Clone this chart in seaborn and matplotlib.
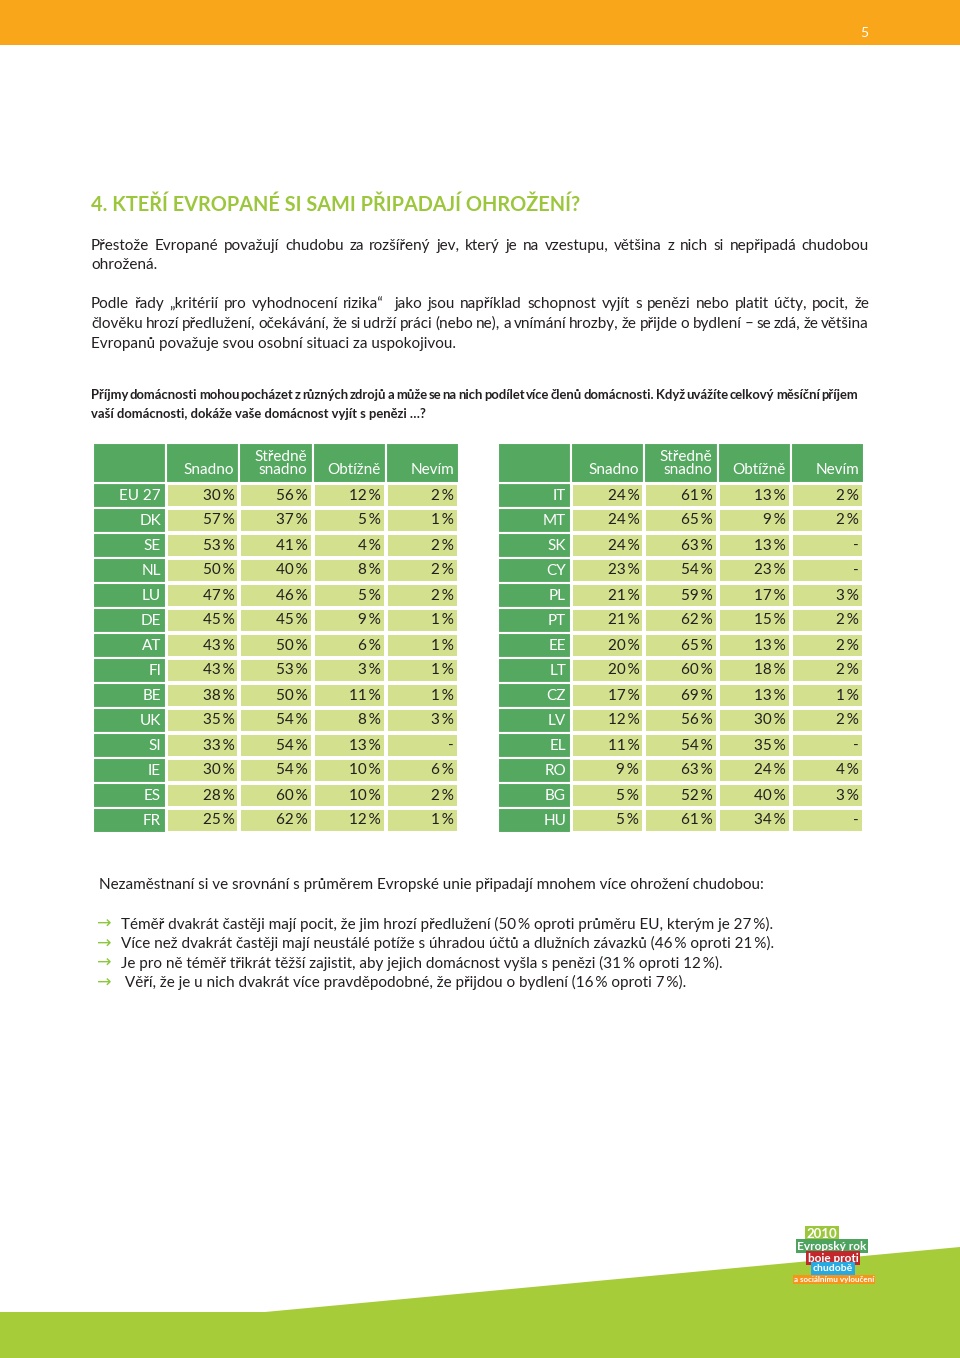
import numpy as np
import pandas as pd
import matplotlib
matplotlib.use('Agg')
import matplotlib.pyplot as plt
from matplotlib.colors import ListedColormap
from matplotlib.patches import Rectangle, Polygon
import seaborn as sns

# --- data ---
columns = ['Snadno', 'Středně\nsnadno', 'Obtížně', 'Nevím']

left_countries = ['EU 27', 'DK', 'SE', 'NL', 'LU', 'DE', 'AT', 'FI', 'BE', 'UK', 'SI', 'IE', 'ES', 'FR']
left_snadno = [30, 57, 53, 50, 47, 45, 43, 43, 38, 35, 33, 30, 28, 25]
left_stredne = [56, 37, 41, 40, 46, 45, 50, 53, 50, 54, 54, 54, 60, 62]
left_obtizne = [12, 5, 4, 8, 5, 9, 6, 3, 11, 8, 13, 10, 10, 12]
left_nevim = [2, 1, 2, 2, 2, 1, 1, 1, 1, 3, None, 6, 2, 1]

right_countries = ['IT', 'MT', 'SK', 'CY', 'PL', 'PT', 'EE', 'LT', 'CZ', 'LV', 'EL', 'RO', 'BG', 'HU']
right_snadno = [24, 24, 24, 23, 21, 21, 20, 20, 17, 12, 11, 9, 5, 5]
right_stredne = [61, 65, 63, 54, 59, 62, 65, 60, 69, 56, 54, 63, 52, 61]
right_obtizne = [13, 9, 13, 23, 17, 15, 13, 18, 13, 30, 35, 24, 40, 34]
right_nevim = [2, 2, None, None, 3, 2, 2, 2, 1, 2, None, 4, 3, None]

DARK = '#55a860'
LIGHT = '#d3e08e'
TEXT = '#231f20'
LIME = '#9cc63c'
FONT = ['Lato', 'DejaVu Sans']

sns.set_theme(style='white')
plt.rcParams['font.family'] = FONT

fig = plt.figure(figsize=(9.6, 13.58), dpi=100)
page = fig.add_axes([0, 0, 1, 1])
page.set_xlim(0, 960)
page.set_ylim(1358, 0)
page.axis('off')


def line(s, x, y, x1=None, **kw):
    # draws one text line; with x1 the words are spread to fill x..x1
    kw.setdefault('va', 'center')
    kw.setdefault('color', TEXT)
    kw.setdefault('family', FONT)
    if x1 is None:
        page.text(x, y, s, **kw)
        return
    words = s.split(' ')
    objs = [page.text(0, y, w, **kw) for w in words]
    r = fig.canvas.get_renderer()
    widths = [o.get_window_extent(r).width for o in objs]
    gap = (x1 - x - sum(widths)) / (len(words) - 1)
    for o, w in zip(objs, widths):
        o.set_x(x)
        x += w + gap


# header bar and bottom wedge
page.add_patch(Rectangle((0, 0), 960, 45, fc='#f9a61a', ec='none'))
page.text(864, 33, '5', color='white', fontsize=10, ha='center', va='center')
page.add_patch(Polygon([(0, 1312), (265, 1312), (960, 1247), (960, 1358), (0, 1358)],
                       closed=True, fc='#a6cc39', ec='none'))

# texts
line('4. KTEŘÍ EVROPANÉ SI SAMI PŘIPADAJÍ OHROŽENÍ?', 91, 205, fontsize=14.3, color=LIME,
     fontweight='bold')
body = dict(fontsize=11)
line('Přestože Evropané považují chudobu za rozšířený jev, který je na vzestupu, většina z nich si nepřipadá chudobou',
     91, 246, 869, **body)
line('ohrožená.', 91, 265, **body)
line('Podle řady „kritérií pro vyhodnocení rizika“  jako jsou například schopnost vyjít s penězi nebo platit účty, pocit, že',
     91, 304, 869, **body)
line('člověku hrozí předlužení, očekávání, že si udrží práci (nebo ne), a vnímání hrozby, že přijde o bydlení – se zdá, že většina',
     91, 324, 869, **body)
line('Evropanů považuje svou osobní situaci za uspokojivou.', 91, 344, **body)

q = dict(fontsize=9.4, fontweight='bold')
line('Příjmy domácnosti mohou pocházet z různých zdrojů a může se na nich podílet více členů domácnosti. Když uvážíte celkový měsíční příjem',
     91, 395, 858, **q)
line('vaší domácnosti, dokáže vaše domácnost vyjít s penězi …?', 91, 414, **q)

line('Nezaměstnaní si ve srovnání s průměrem Evropské unie připadají mnohem více ohrožení chudobou:', 99, 885, **body)
bullets = [
    'Téměř dvakrát častěji mají pocit, že jim hrozí předlužení (50\u2009% oproti průměru EU, kterým je 27\u2009%).',
    'Více než dvakrát častěji mají neustálé potíže s úhradou účtů a dlužních závazků (46\u2009% oproti 21\u2009%).',
    'Je pro ně téměř třikrát těžší zajistit, aby jejich domácnost vyšla s penězi (31\u2009% oproti 12\u2009%).',
    ' Věří, že je u nich dvakrát více pravděpodobné, že přijdou o bydlení (16\u2009% oproti 7\u2009%).',
]
for i, b in enumerate(bullets):
    y = 924 + i * 19.5
    page.text(97, y, '→', color='#8dc63f', fontsize=12.5, va='center', family=['DejaVu Sans'])
    line(b, 121, y, **body)

# logo
logo = [('2010', 822, 1234, LIME, 9.5), ('Evropský rok', 832, 1246, '#4ea35f', 8.5),
        ('boje proti', 833, 1258, '#c1272d', 8.5), ('chudobě', 833, 1268.5, '#27aae1', 7.5),
        ('a sociálnímu vyloučení', 834, 1279.5, '#f7941d', 5.8)]
for s, x, y, c, fs in logo:
    page.text(x, y, s, color='white', fontsize=fs, fontweight='bold', ha='center', va='center',
              bbox=dict(boxstyle='square,pad=0.15', fc=c, ec='none'))


def table(x0, countries, cols):
    vals = pd.DataFrame(dict(zip(columns, cols)), index=countries, dtype=float)
    annot = vals.map(lambda v: '-' if pd.isna(v) else f'{v:.0f}\u2009%').values
    ax = fig.add_axes([x0 / 960, 1 - 833 / 1358, 366 / 960, 390 / 1358])
    sns.heatmap(vals.fillna(0), ax=ax, cmap=ListedColormap([LIGHT]), cbar=False,
                annot=annot, fmt='', linewidths=1.5, linecolor='white',
                xticklabels=False, yticklabels=False,
                annot_kws=dict(color=TEXT, fontsize=11, family=FONT))
    for t in ax.texts:
        t.set_x(t.get_position()[0] + 0.43)
        t.set_ha('right')
    n = len(countries)
    ax.set_xlim(-1, len(columns))
    ax.set_ylim(n, -1.6)
    for i, c in enumerate(countries):
        ax.add_patch(Rectangle((-1, i), 1, 1, fc=DARK, ec='white', lw=1.5))
        ax.text(-0.07, i + 0.52, c, color='white', fontsize=11, ha='right', va='center')
    ax.add_patch(Rectangle((-1, -1.6), 1, 1.6, fc=DARK, ec='white', lw=1.5))
    for j, c in enumerate(columns):
        ax.add_patch(Rectangle((j, -1.6), 1, 1.6, fc=DARK, ec='white', lw=1.5))
        ax.text(j + 0.93, -0.22, c, color='white', fontsize=11, ha='right', va='bottom',
                multialignment='right', linespacing=0.95)
    ax.axis('off')


table(93, left_countries, [left_snadno, left_stredne, left_obtizne, left_nevim])
table(498, right_countries, [right_snadno, right_stredne, right_obtizne, right_nevim])

fig.savefig('out.png', dpi=100)
